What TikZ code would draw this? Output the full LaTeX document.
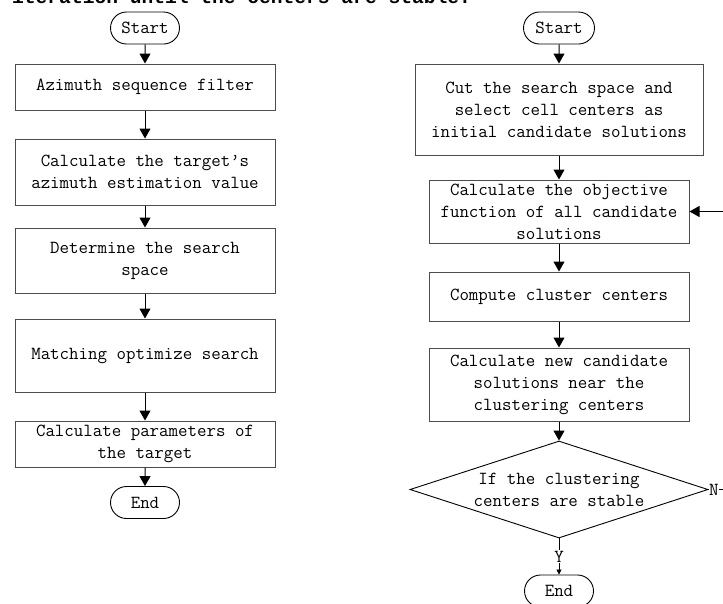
\documentclass[tikz,border=0pt]{standalone}
\usepackage{fontspec}
\newfontfamily\headfont{Liberation Mono}
\usetikzlibrary{shapes.geometric,shapes.misc,arrows.meta}

\begin{document}
\begin{tikzpicture}[x=1pt,y=-1pt,
    font=\ttfamily\fontsize{18.4}{22}\selectfont,
    proc/.style={draw=black!70,line width=1pt,align=center,inner sep=0pt,minimum width=260pt},
    term/.style={draw,rounded rectangle,line width=0.9pt,inner sep=0pt,minimum width=69pt,minimum height=32pt},
    decision/.style={draw,diamond,aspect=3.07,line width=0.9pt,align=center,inner xsep=0pt,inner ysep=-16pt,minimum width=298pt,minimum height=97pt},
    flow/.style={-{Triangle[width=11pt,length=10pt]},line width=1pt}]
    \useasboundingbox (0,0) rectangle (723,603);
    \node[anchor=base west,inner sep=0pt,font=\headfont\bfseries\fontsize{19.6}{24}\selectfont] (caption) at (12,3.5) {iteration until the centers are stable.};

    \node[term] (lstart) at (145,28) {Start};
    \node[proc,minimum height=46pt] (filter) at (145,87) {Azimuth sequence filter};
    \node[proc,minimum height=66pt] (estim) at (145,172) {Calculate the target’s\\azimuth estimation value};
    \node[proc,minimum height=65pt] (space) at (145,260.5) {Determine the search\\space};
    \node[proc,minimum height=73pt] (match) at (145,355.5) {Matching optimize search};
    \node[proc,minimum height=46pt] (param) at (145,444) {Calculate parameters of\\the target};
    \node[term] (lend) at (145,502.5) {End};

    \node[term,minimum width=71pt] (rstart) at (559,28) {Start};
    \node[proc,minimum width=288pt,minimum height=91pt] (cut) at (559,109.5) {Cut the search space and\\select cell centers as\\initial candidate solutions};
    \node[proc,minimum height=63pt] (objective) at (559,211.5) {Calculate the objective\\function of all candidate\\solutions};
    \node[proc,minimum height=49pt] (cluster) at (559,296.5) {Compute cluster centers};
    \node[proc,minimum height=73pt] (newsol) at (559,384.5) {Calculate new candidate\\solutions near the\\clustering centers};
    \node[decision] (stable) at (559,489.5) {If the clustering\\centers are stable};
    \node[term] (rend) at (559,591) {End};
    \coordinate (loopa) at (740,489.5);
    \coordinate (loopb) at (740,211.5);

    \draw[flow] (lstart) -- (filter);
    \draw[flow] (filter) -- (estim);
    \draw[flow] (estim) -- (space);
    \draw[flow] (space) -- (match);
    \draw[flow] (match) -- (param);
    \draw[flow] (param) -- (lend);

    \draw[flow] (rstart) -- (cut);
    \draw[flow] (cut) -- (objective);
    \draw[flow] (objective) -- (cluster);
    \draw[flow] (cluster) -- (newsol);
    \draw[flow] (newsol) -- (stable);
    \draw[flow] (stable.east) -- (loopa) -- (loopb) -- (objective.east);
    \node[anchor=west,fill=white,inner sep=0.5pt] (no) at (stable.east) {N};
    \draw[-{Triangle[width=5pt,length=5pt]},line width=0.8pt] (stable.south) -- node[fill=white,inner sep=1pt] (yes) {Y} (rend.north);
\end{tikzpicture}
\end{document}
